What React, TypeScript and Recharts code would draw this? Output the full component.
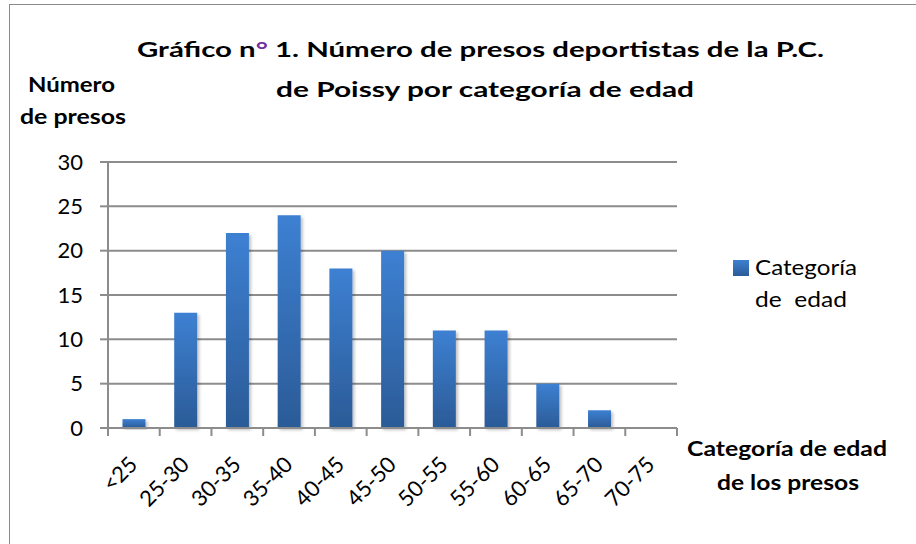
import React from "react";
import { BarChart, Bar, XAxis, YAxis, CartesianGrid } from "recharts";

const categories = ["<25", "25-30", "30-35", "35-40", "40-45", "45-50", "50-55", "55-60", "60-65", "65-70", "70-75"];
const presos = [1, 13, 22, 24, 18, 20, 11, 11, 5, 2, 0];
const yTicks = [0, 5, 10, 15, 20, 25, 30];
const seriesName = ["Categoría", "de  edad"];

const data = categories.map((c, i) => ({ categoria: c, presos: presos[i] }));

const W = 916;
const H = 544;
const FONT = "Lato, 'Open Sans', sans-serif";
const GRID = "#8c8c8c";
const MARGIN = { top: 162, right: 239, bottom: 86, left: 48 };
const Y_AXIS_W = 60;
const X_AXIS_H = 30;

function CategoryTick(props: any) {
  const { x, y, payload, index } = props;
  const plotW = W - MARGIN.left - Y_AXIS_W - MARGIN.right;
  const step = payload && payload.offset ? payload.offset * 2 : plotW / categories.length;
  const axisY = y - 8;
  const lx = x + 5;
  const ly = axisY + 38;
  return (
    <g>
      <line x1={x - step / 2} x2={x - step / 2} y1={axisY} y2={axisY + 8} stroke={GRID} strokeWidth={2} />
      {index === categories.length - 1 && (
        <line x1={x + step / 2} x2={x + step / 2} y1={axisY} y2={axisY + 8} stroke={GRID} strokeWidth={2} />
      )}
      <text
        x={lx}
        y={ly}
        textAnchor="end"
        transform={`rotate(-45 ${lx} ${ly})`}
        fontFamily={FONT}
        fontSize={22}
        fill="#000"
      >
        {payload.value}
      </text>
    </g>
  );
}

export default function App() {
  return (
    <div
      style={{
        position: "absolute",
        left: 0,
        top: 0,
        width: W,
        height: H,
        overflow: "hidden",
        background: "#fff",
      }}
    >
      {/* chart frame, right and bottom edges fall outside the crop */}
      <div
        style={{
          position: "absolute",
          left: 9,
          top: 4,
          width: 1000,
          height: 700,
          border: "1.5px solid #8a8a8a",
        }}
      />
      <BarChart
        width={W}
        height={H}
        data={data}
        margin={MARGIN}
        barCategoryGap="28%"
        style={{ position: "absolute", left: 0, top: 0 }}
      >
        <defs>
          <linearGradient id="barGrad" x1="0" y1="0" x2="0" y2="1">
            <stop offset="0%" stopColor="#3d80d2" />
            <stop offset="100%" stopColor="#2b5b97" />
          </linearGradient>
          <filter id="barShadow" x="-20%" y="-20%" width="150%" height="140%">
            <feDropShadow dx="2" dy="2" stdDeviation="1.5" floodColor="#000" floodOpacity="0.25" />
          </filter>
        </defs>
        <CartesianGrid vertical={false} stroke={GRID} strokeWidth={2} />
        <XAxis
          dataKey="categoria"
          interval={0}
          height={X_AXIS_H}
          axisLine={{ stroke: GRID, strokeWidth: 2 }}
          tickLine={false}
          tickSize={8}
          tickMargin={0}
          tick={<CategoryTick />}
        />
        <YAxis
          domain={[0, 30]}
          ticks={yTicks}
          width={Y_AXIS_W}
          axisLine={{ stroke: GRID, strokeWidth: 2 }}
          tickLine={{ stroke: GRID, strokeWidth: 2 }}
          tickSize={8}
          tickMargin={17}
          tick={{ fontFamily: FONT, fontSize: 22, fill: "#000" }}
        />
        <Bar
          dataKey="presos"
          name="Categoría de edad"
          fill="url(#barGrad)"
          filter="url(#barShadow)"
          isAnimationActive={false}
        />
      </BarChart>
      <svg
        width={W}
        height={H}
        style={{ position: "absolute", left: 0, top: 0, pointerEvents: "none" }}
      >
        <defs>
          <linearGradient id="legGrad" x1="0" y1="0" x2="0" y2="1">
            <stop offset="0%" stopColor="#3d80d2" />
            <stop offset="100%" stopColor="#2b5b97" />
          </linearGradient>
        </defs>
        <g fontFamily={FONT} fontWeight="bold" fill="#000" fontSize={21}>
          <text x={137} y={57} textLength={687} lengthAdjust="spacingAndGlyphs">
            Gráfico n<tspan fill="#7030a0">°</tspan> 1. Número de presos deportistas de la P.C.
          </text>
          <text x={276} y={97} textLength={418} lengthAdjust="spacingAndGlyphs">
            de Poissy por categoría de edad
          </text>
          <text x={28} y={92} textLength={87} lengthAdjust="spacingAndGlyphs">
            Número
          </text>
          <text x={20} y={124} textLength={106} lengthAdjust="spacingAndGlyphs">
            de presos
          </text>
          <text x={687} y={456} textLength={200} lengthAdjust="spacingAndGlyphs">
            Categoría de edad
          </text>
          <text x={717} y={490} textLength={142} lengthAdjust="spacingAndGlyphs">
            de los presos
          </text>
        </g>
        {/* legend */}
        <rect x={733} y={260} width={16} height={16} fill="url(#legGrad)" />
        <g fontFamily={FONT} fill="#000" fontSize={22}>
          <text x={755} y={275} textLength={102} lengthAdjust="spacingAndGlyphs">
            {seriesName[0]}
          </text>
          <text x={755} y={307} textLength={92} lengthAdjust="spacingAndGlyphs" style={{ whiteSpace: "pre" }}>
            {seriesName[1]}
          </text>
        </g>
      </svg>
    </div>
  );
}
